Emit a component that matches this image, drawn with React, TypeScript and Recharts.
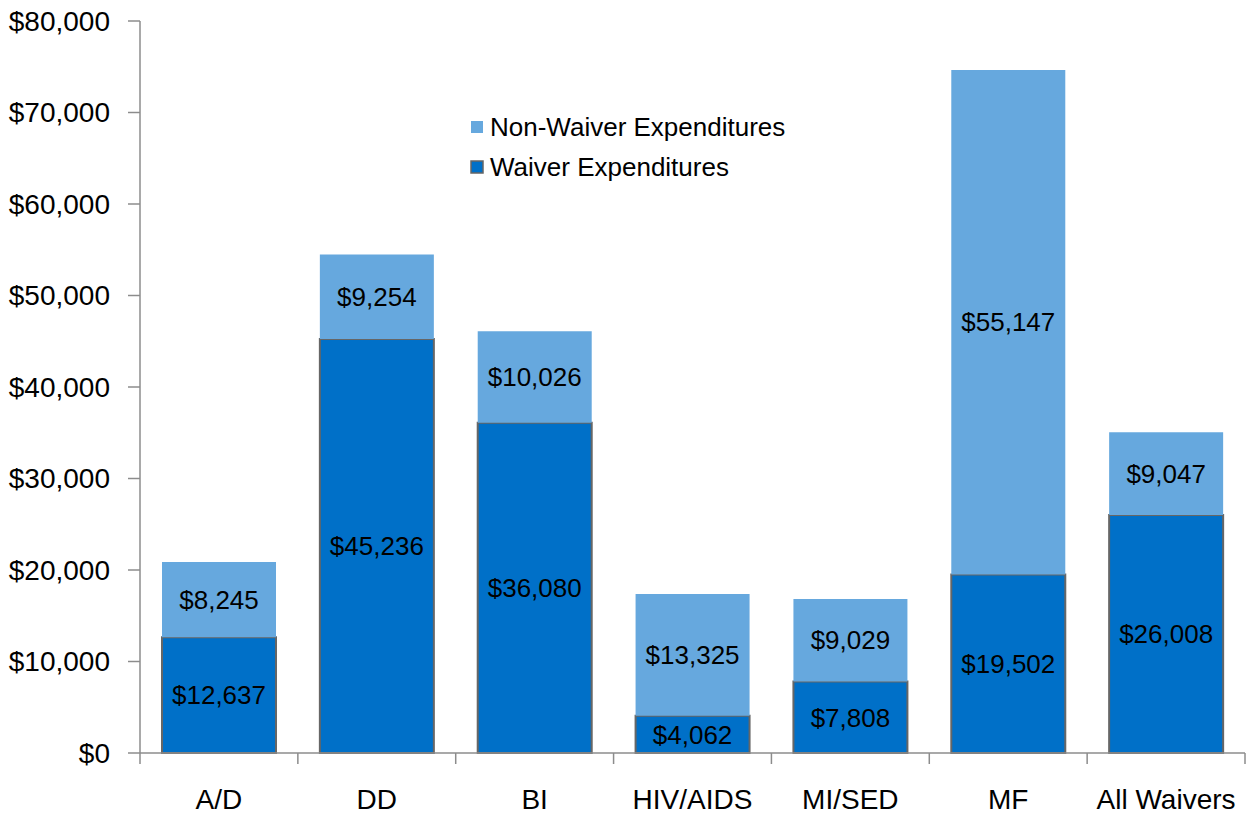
import React from 'react'
import { BarChart, Bar, XAxis, YAxis, LabelList, Legend } from 'recharts'

const categories = ['A/D', 'DD', 'BI', 'HIV/AIDS', 'MI/SED', 'MF', 'All Waivers']
const waiver = [12637, 45236, 36080, 4062, 7808, 19502, 26008]
const nonWaiver = [8245, 9254, 10026, 13325, 9029, 55147, 9047]
const yTicks = [0, 10000, 20000, 30000, 40000, 50000, 60000, 70000, 80000]

const data = categories.map((name, i) => ({
  name,
  waiver: waiver[i],
  nonWaiver: nonWaiver[i],
}))

const W = 1247
const H = 821
const Y_AXIS_W = 140
const RIGHT = 2
const BAND = (W - Y_AXIS_W - RIGHT) / categories.length
const TICK_GAP = 36

const FONT = '"Liberation Sans", Arial, sans-serif'
const DARK = '#0070C8'
const LIGHT = '#66A8DE'
const AXIS = '#8c8c8c'

const money = (v: any) => '$' + Number(v).toLocaleString('en-US')

// category label plus the separator tick on the band's left edge (and right edge for the last one)
function CatTick(props: any) {
  const { x, y, payload, index } = props
  const axisY = y - TICK_GAP
  const left = x - BAND / 2
  const right = x + BAND / 2
  return (
    <g>
      <line x1={left} x2={left} y1={axisY} y2={axisY + 11} stroke={AXIS} strokeWidth={1.5} />
      {index === categories.length - 1 && (
        <line x1={right} x2={right} y1={axisY} y2={axisY + 11} stroke={AXIS} strokeWidth={1.5} />
      )}
      <text x={x} y={y} dy="0.71em" textAnchor="middle" fill="#000" fontSize={28} fontFamily={FONT}>
        {payload.value}
      </text>
    </g>
  )
}

function LegendBox() {
  const items = [
    { label: 'Non-Waiver Expenditures', fill: LIGHT, stroke: 'none' },
    { label: 'Waiver Expenditures', fill: DARK, stroke: '#666' },
  ]
  return (
    <div style={{ fontFamily: FONT, fontSize: 26, color: '#000' }}>
      {items.map((it) => (
        <div key={it.label} style={{ display: 'flex', alignItems: 'center', height: 40 }}>
          <svg width={20} height={14}>
            <rect x={1} y={1} width={12} height={12} fill={it.fill} stroke={it.stroke} strokeWidth={1.5} />
          </svg>
          <span>{it.label}</span>
        </div>
      ))}
    </div>
  )
}

export default function App() {
  return (
    <div style={{ position: 'absolute', left: 0, top: 0, width: W, height: H, background: '#fff' }}>
      <BarChart
        width={W}
        height={H}
        data={data}
        margin={{ top: 21, right: RIGHT, left: 0, bottom: 0 }}
        barSize={114}
      >
        <XAxis
          dataKey="name"
          height={68}
          axisLine={{ stroke: AXIS, strokeWidth: 1.5 }}
          tickLine={false}
          tickSize={0}
          tickMargin={TICK_GAP}
          tick={<CatTick />}
          interval={0}
        />
        <YAxis
          width={Y_AXIS_W}
          domain={[0, 80000]}
          ticks={yTicks}
          tickFormatter={money}
          axisLine={{ stroke: AXIS, strokeWidth: 1.5 }}
          tickLine={{ stroke: AXIS, strokeWidth: 1.5 }}
          tickSize={12}
          tickMargin={18}
          tick={{ fill: '#000', fontSize: 28, fontFamily: FONT }}
        />
        <Legend
          layout="horizontal"
          verticalAlign="middle"
          align="center"
          content={() => <LegendBox />}
          wrapperStyle={{ left: 470, top: 107, width: 400 }}
        />
        <Bar dataKey="waiver" stackId="a" fill={DARK} stroke="#666" strokeWidth={2} isAnimationActive={false}>
          <LabelList dataKey="waiver" position="center" formatter={money} fill="#000" fontSize={26} fontFamily={FONT} />
        </Bar>
        <Bar dataKey="nonWaiver" stackId="a" fill={LIGHT} isAnimationActive={false}>
          <LabelList dataKey="nonWaiver" position="center" formatter={money} fill="#000" fontSize={26} fontFamily={FONT} />
        </Bar>
      </BarChart>
    </div>
  )
}
